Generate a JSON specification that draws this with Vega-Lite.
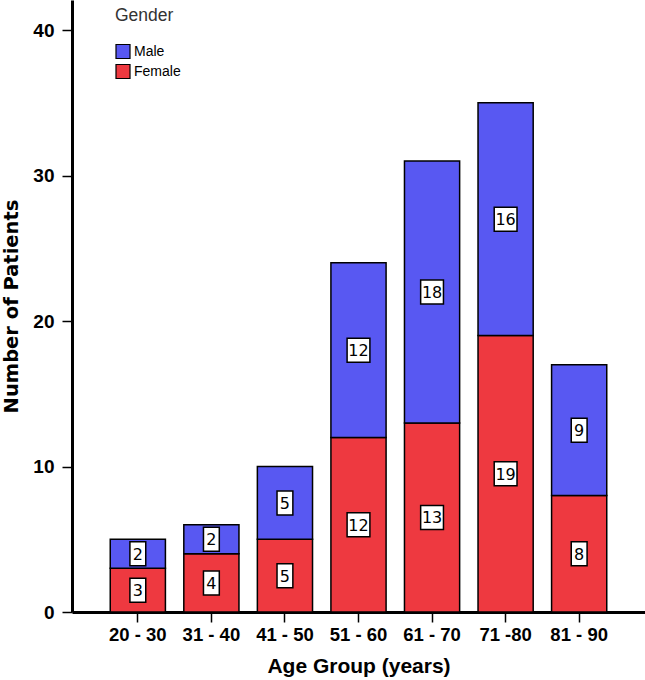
{
  "$schema": "https://vega.github.io/schema/vega-lite/v6.json",
  "width": 573,
  "height": 612,
  "autosize": {"type": "none"},
  "padding": {"left": 72, "top": 0, "right": 0, "bottom": 68},
  "background": "white",
  "config": {
    "view": {"stroke": null},
    "font": "Liberation Sans",
    "axis": {"grid": false, "domainColor": "black", "tickColor": "black", "labelColor": "black", "titleColor": "black", "labelFont": "Liberation Sans", "titleFont": "Liberation Sans"}
  },
  "data": {
    "values": [
      {"age": "20 - 30", "gender": "Female", "count": 3},
      {"age": "20 - 30", "gender": "Male", "count": 2},
      {"age": "31 - 40", "gender": "Female", "count": 4},
      {"age": "31 - 40", "gender": "Male", "count": 2},
      {"age": "41 - 50", "gender": "Female", "count": 5},
      {"age": "41 - 50", "gender": "Male", "count": 5},
      {"age": "51 - 60", "gender": "Female", "count": 12},
      {"age": "51 - 60", "gender": "Male", "count": 12},
      {"age": "61 - 70", "gender": "Female", "count": 13},
      {"age": "61 - 70", "gender": "Male", "count": 18},
      {"age": "71 -80", "gender": "Female", "count": 19},
      {"age": "71 -80", "gender": "Male", "count": 16},
      {"age": "81 - 90", "gender": "Female", "count": 8},
      {"age": "81 - 90", "gender": "Male", "count": 9}
    ]
  },
  "transform": [
    {"calculate": "datum.gender == 'Female' ? 0 : 1", "as": "ord"},
    {"stack": "count", "groupby": ["age"], "sort": [{"field": "ord", "order": "ascending"}], "as": ["y0", "y1"]},
    {"calculate": "(datum.y0 + datum.y1) / 2", "as": "ymid"}
  ],
  "encoding": {
    "x": {
      "field": "age", "type": "nominal", "sort": null,
      "scale": {"paddingInner": 0.25, "paddingOuter": 0.52},
      "axis": {"title": "Age Group (years)", "labelAngle": 0, "labelFontSize": 18.5, "labelFontWeight": "bold", "titleFontSize": 21, "titleFontWeight": "bold", "domainWidth": 3, "tickWidth": 1.5, "tickSize": 10, "labelPadding": 3, "titlePadding": 12}
    }
  },
  "layer": [
    {
      "mark": {"type": "bar", "stroke": "black", "strokeWidth": 1.5},
      "encoding": {
        "y": {"field": "y0", "type": "quantitative", "scale": {"domain": [0, 42.07], "nice": false},
          "axis": {"title": "Number of Patients", "titleFont": "DejaVu Sans", "values": [0, 10, 20, 30, 40], "labelFontSize": 19, "labelFontWeight": "bold", "titleFontSize": 19.5, "titleFontWeight": "bold", "domainWidth": 3, "tickWidth": 1.5, "tickSize": 10, "labelPadding": 8, "titlePadding": 11}},
        "y2": {"field": "y1"},
        "color": {"field": "gender", "type": "nominal",
          "scale": {"domain": ["Male", "Female"], "range": ["#5858f2", "#ee3940"]},
          "legend": {"title": "Gender", "orient": "none", "legendX": 43, "legendY": 7, "titleFontWeight": "normal", "titleFontSize": 17.5, "titleColor": "#333", "labelFontSize": 14, "labelColor": "black", "symbolType": "square", "symbolSize": 196, "symbolStrokeColor": "black", "symbolStrokeWidth": 1.2, "rowPadding": 0, "labelOffset": 3, "titlePadding": 19}}
      }
    },
    {
      "mark": {"type": "point", "filled": true, "fill": "white", "stroke": "black", "strokeWidth": 1.5, "opacity": 1},
      "encoding": {
        "y": {"field": "ymid", "type": "quantitative"},
        "size": {"value": 576},
        "shape": {"condition": {"test": "datum.count >= 10", "value": "M-0.95,-1H0.95V1H-0.95Z"}, "value": "M-0.66,-1H0.66V1H-0.66Z"}
      }
    },
    {
      "mark": {"type": "text", "fontSize": 16, "font": "DejaVu Sans", "color": "black", "baseline": "middle", "dy": 1},
      "encoding": {
        "y": {"field": "ymid", "type": "quantitative"},
        "text": {"field": "count", "type": "quantitative"}
      }
    }
  ]
}
